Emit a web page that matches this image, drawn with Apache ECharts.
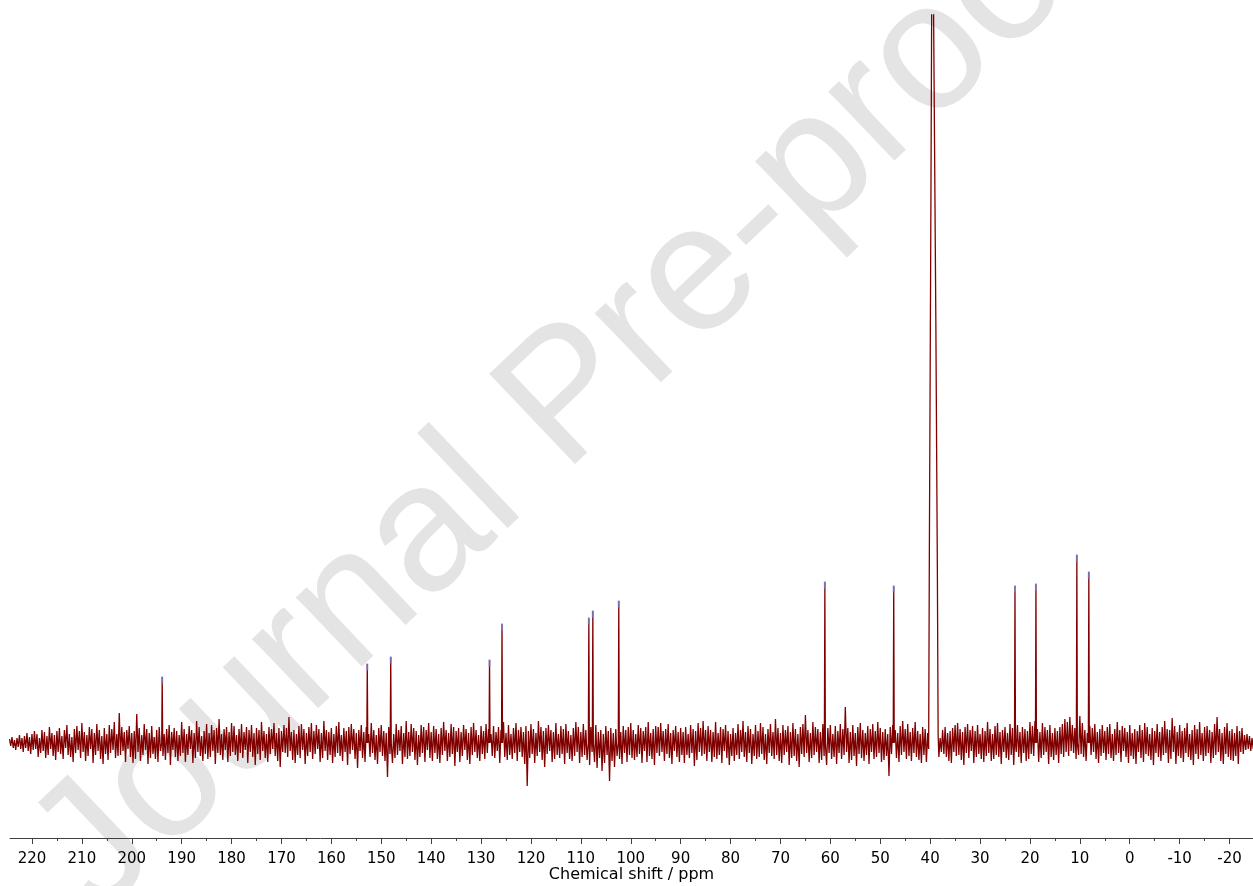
<!DOCTYPE html>
<html><head><meta charset="utf-8">
<script src="https://cdn.jsdelivr.net/npm/echarts@6/dist/echarts.min.js"></script>
<style>html,body{margin:0;padding:0;background:#fff;overflow:hidden}#c{width:1253px;height:886px}</style>
</head><body><div id="c"></div>
<script>
// Spectrum sampling (evenly spaced, ppm)
const noiseStartPpm = 224.5;
const noiseStepPpm = 0.25;
// Baseline noise (intensity units, + = up); each row = 5 ppm
const noise = [
4,-3,6,-5,3,-7,5,-4,8,-6,5,-9,7,-5,10,-8,6,-11,9,-7,
12,-6,9,-14,5,-10,13,-8,11,-15,7,-12,16,-6,10,-13,8,-17,12,-9,
15,-11,7,-16,13,-5,18,-12,9,-14,6,-19,14,-10,17,-7,12,-15,20,-9,
11,-18,8,-13,16,-6,14,-20,10,-12,19,-8,13,-16,7,-21,15,-11,9,-17,
18,-10,14,-7,21,-15,9,-13,30,-12,16,-8,11,-19,13,-6,17,-14,10,-20,
12,-16,29,-9,15,-18,8,-12,19,-7,14,-21,10,-15,17,-11,6,-16,13,-19,
16,-8,20,-13,9,-17,14,-10,18,-22,11,-7,15,-14,12,-18,8,-13,21,-10,
14,-19,9,-12,17,-6,13,-20,10,-15,22,-9,16,-13,7,-18,12,-11,19,-16,
10,-14,18,-8,13,-21,15,-10,24,-12,9,-17,14,-7,16,-19,11,-13,20,-9,
17,-12,8,-18,14,-10,19,-15,11,-7,16,-20,13,-9,18,-14,10,-22,15,-11,
13,-17,21,-8,12,-15,9,-19,16,-11,14,-6,20,-13,10,-18,15,-24,12,-9,
18,-10,15,-14,26,-8,11,-17,13,-20,9,-12,17,-15,19,-7,14,-21,10,-13,
16,-9,20,-16,12,-11,18,-6,14,-19,10,-15,22,-8,13,-17,11,-12,15,-20,
9,-14,17,-10,21,-13,8,-18,15,-9,12,-22,16,-11,19,-7,14,-16,10,-25,
13,-8,18,-15,11,-19,16,-12,9,-14,20,-10,13,-17,8,-21,15,-9,18,-13,
12,-18,10,-34,16,-11,14,-20,9,-15,19,-12,13,-8,17,-21,10,-14,22,-16,
11,-13,19,-9,15,-17,12,-22,8,-14,18,-10,16,-19,13,-7,20,-15,11,-18,
17,-10,14,-16,9,-20,15,-12,21,-8,13,-18,10,-14,19,-11,16,-23,12,-9,
15,-19,11,-13,18,-7,14,-17,10,-21,16,-12,20,-9,13,-15,8,-18,17,-11,
12,-16,19,-10,14,-22,9,-13,17,-15,11,-8,16,-20,13,-11,21,-14,10,-17,
18,-12,9,-16,15,-10,20,-18,13,-9,16,-14,11,-21,17,-43,12,-15,19,-11,
14,-20,10,-13,22,-9,16,-17,12,-24,15,-11,18,-8,13,-19,11,-16,20,-12,
9,-15,17,-11,14,-21,19,-10,12,-16,8,-18,15,-13,21,-9,16,-20,11,-14,
19,-12,13,-17,10,-22,16,-9,14,-19,18,-25,11,-15,13,-28,9,-20,17,-12,
12,-38,15,-18,10,-24,14,-13,19,-16,11,-21,17,-10,13,-19,16,-12,20,-15,
13,-17,9,-14,18,-11,15,-20,12,-8,16,-19,21,-13,10,-16,14,-22,17,-10,
16,-13,20,-9,12,-18,14,-11,19,-15,10,-21,13,-8,17,-14,11,-19,15,-12,
11,-20,16,-12,9,-15,18,-10,14,-23,12,-17,20,-9,15,-13,22,-11,13,-18,
17,-9,13,-19,11,-14,21,-16,10,-12,16,-20,14,-8,18,-15,12,-22,9,-13,
15,-18,10,-12,19,-16,13,-9,22,-14,11,-19,17,-10,14,-21,9,-13,18,-16,
12,-14,20,-11,16,-17,9,-21,14,-10,19,-13,11,-16,24,-12,15,-18,10,-20,
18,-12,13,-9,17,-22,11,-15,20,-13,14,-18,9,-24,16,-11,19,-14,28,-10,
13,-19,10,-15,21,-12,16,-9,14,-20,11,-17,19,-13,12,-22,15,-10,18,-16,
9,-14,17,-21,12,-10,19,-16,14,-12,36,-9,15,-20,11,-17,18,-13,10,-23,
16,-11,20,-15,13,-18,10,-12,17,-21,14,-9,19,-16,12,-14,21,-10,15,-19,
11,-17,14,-13,9,-33,16,-11,18,-20,13,-15,10,-19,17,-12,22,-9,14,-16,
19,-13,11,-18,15,-10,21,-14,12,-17,9,-20,16,-12,14,-19,10,-16,13,-15,
11,-9,8,-12,10,-14,5,-9,13,-11,16,-14,10,-18,12,-20,15,-9,18,-13,
20,-12,14,-17,11,-22,16,-10,19,-15,13,-8,17,-20,12,-14,18,-11,9,-16,
15,-19,12,-13,21,-10,14,-18,9,-16,17,-12,20,-14,11,-21,13,-9,16,-15,
10,-17,19,-12,15,-22,13,-9,18,-14,11,-20,16,-10,14,-18,12,-16,21,-11,
17,-13,22,-10,14,-19,11,-15,20,-12,16,-9,13,-21,18,-14,10,-17,15,-12,
12,-20,16,-11,19,-14,24,-9,21,-13,26,-8,18,-10,15,-16,22,-12,27,-11,
20,-14,13,-18,10,-22,17,-12,15,-9,19,-16,11,-20,14,-13,18,-10,12,-17,
16,-11,19,-15,9,-18,14,-12,21,-10,13,-19,17,-8,15,-14,11,-20,18,-13,
10,-16,14,-21,12,-9,18,-15,13,-19,20,-11,16,-13,9,-17,15,-22,12,-10,
19,-14,11,-18,16,-12,22,-10,14,-20,13,-16,25,-9,17,-21,11,-13,18,-15,
12,-19,15,-10,20,-14,9,-17,13,-22,18,-11,14,-16,21,-12,10,-18,16,-13,
17,-10,13,-20,11,-15,19,-12,26,-9,14,-18,10,-21,16,-11,20,-14,12,-17,
14,-18,10,-13,17,-21,12,-9,15,-11,8,-7,9,-6,7,-8,5,-6,4,-3
];
// Sharp signals
const peakPpm    = [193.9,152.8,148.1,128.3,125.8,108.4,107.6,102.4,61.1,47.3,23.0,18.8,10.6,8.2];
const peakHeight = [66,79,86,83,119,125,132,142,161,157,157,159,188,171];
// Solvent multiplet (top is off-scale)
const solventPpm    = [40.3,40.16,39.86,39.56,39.36,39.16,38.86,38.56,38.4];
const solventHeight = [-6,190,526,900,900,900,423,178,8];
// Axis ticks
const tickValues = [220,210,200,190,180,170,160,150,140,130,120,110,100,90,80,70,60,50,40,30,20,10,0,-10,-20];
const minorTickValues = [215,205,195,185,175,165,155,145,135,125,115,105,95,85,75,65,55,45,35,25,15,5,-5,-15];
const axisTitle = 'Chemical shift / ppm';
const watermark = 'Journal Pre-proof';

const sLo = solventPpm[solventPpm.length - 1], sHi = solventPpm[0];
function keepNoise(p) {
  if (p > sLo - 0.05 && p < sHi + 0.05) return false;
  for (const q of peakPpm) if (Math.abs(p - q) < 0.13) return false;
  return true;
}
const pts = [];
noise.forEach((v, i) => { const p = noiseStartPpm - noiseStepPpm * i; if (keepNoise(p)) pts.push([p, v]); });
solventPpm.forEach((p, i) => pts.push([p, solventHeight[i]]));
peakPpm.forEach((p, i) => {
  pts.push([p + 0.1, 0]);
  pts.push([p, peakHeight[i]]);
  pts.push([p - 0.1, 0]);
});
pts.sort((a, b) => b[0] - a[0]);
const tips = peakPpm.map((p, i) => [p, peakHeight[i]]);

const chart = echarts.init(document.getElementById('c'), null, {renderer: 'canvas'});
const font = '"DejaVu Sans", Verdana, sans-serif';
chart.setOption({
  animation: false,
  backgroundColor: '#ffffff',
  graphic: [{
    type: 'text', x: 570, y: 400, rotation: 0.76, z: 0, silent: true,
    style: { text: watermark, fontSize: 181, fontFamily: '"Liberation Sans", Arial, sans-serif',
      fill: '#e4e4e4', textAlign: 'center', textVerticalAlign: 'middle' }
  }],
  grid: { left: 10, right: 0, top: 15, bottom: 48, containLabel: false, outerBoundsMode: 'none' },
  xAxis: [{
    type: 'value', inverse: true, min: -24.7, max: 224.4,
    name: axisTitle, nameLocation: 'middle', nameGap: 29, nameMoveOverlap: false,
    nameTextStyle: { fontFamily: font, fontSize: 16, color: '#000' },
    axisLine: { show: true, onZero: false, lineStyle: { color: '#404040', width: 1 } },
    axisTick: { show: true, length: 6, customValues: tickValues, lineStyle: { color: '#404040' } },
    axisLabel: { show: true, customValues: tickValues, margin: 14, fontFamily: font, fontSize: 15, color: '#000' },
    splitLine: { show: false }
  }, {
    type: 'value', inverse: true, min: -24.7, max: 224.4, position: 'bottom', gridIndex: 0,
    axisLine: { show: false, onZero: false },
    axisTick: { show: true, length: 3, customValues: minorTickValues, lineStyle: { color: '#404040' } },
    axisLabel: { show: false },
    splitLine: { show: false }
  }],
  yAxis: { type: 'value', min: -95, max: 728, show: false },
  series: [{
    type: 'line', xAxisIndex: 0, data: pts, showSymbol: false, symbol: 'none',
    lineStyle: { color: '#800000', width: 1.3 }, z: 3, clip: true
  }, {
    type: 'scatter', xAxisIndex: 0, data: tips, symbol: 'rect', symbolSize: [2, 7],
    symbolOffset: [0, 3], itemStyle: { color: '#7b7bd0' }, z: 4, silent: true
  }]
});
</script></body></html>
